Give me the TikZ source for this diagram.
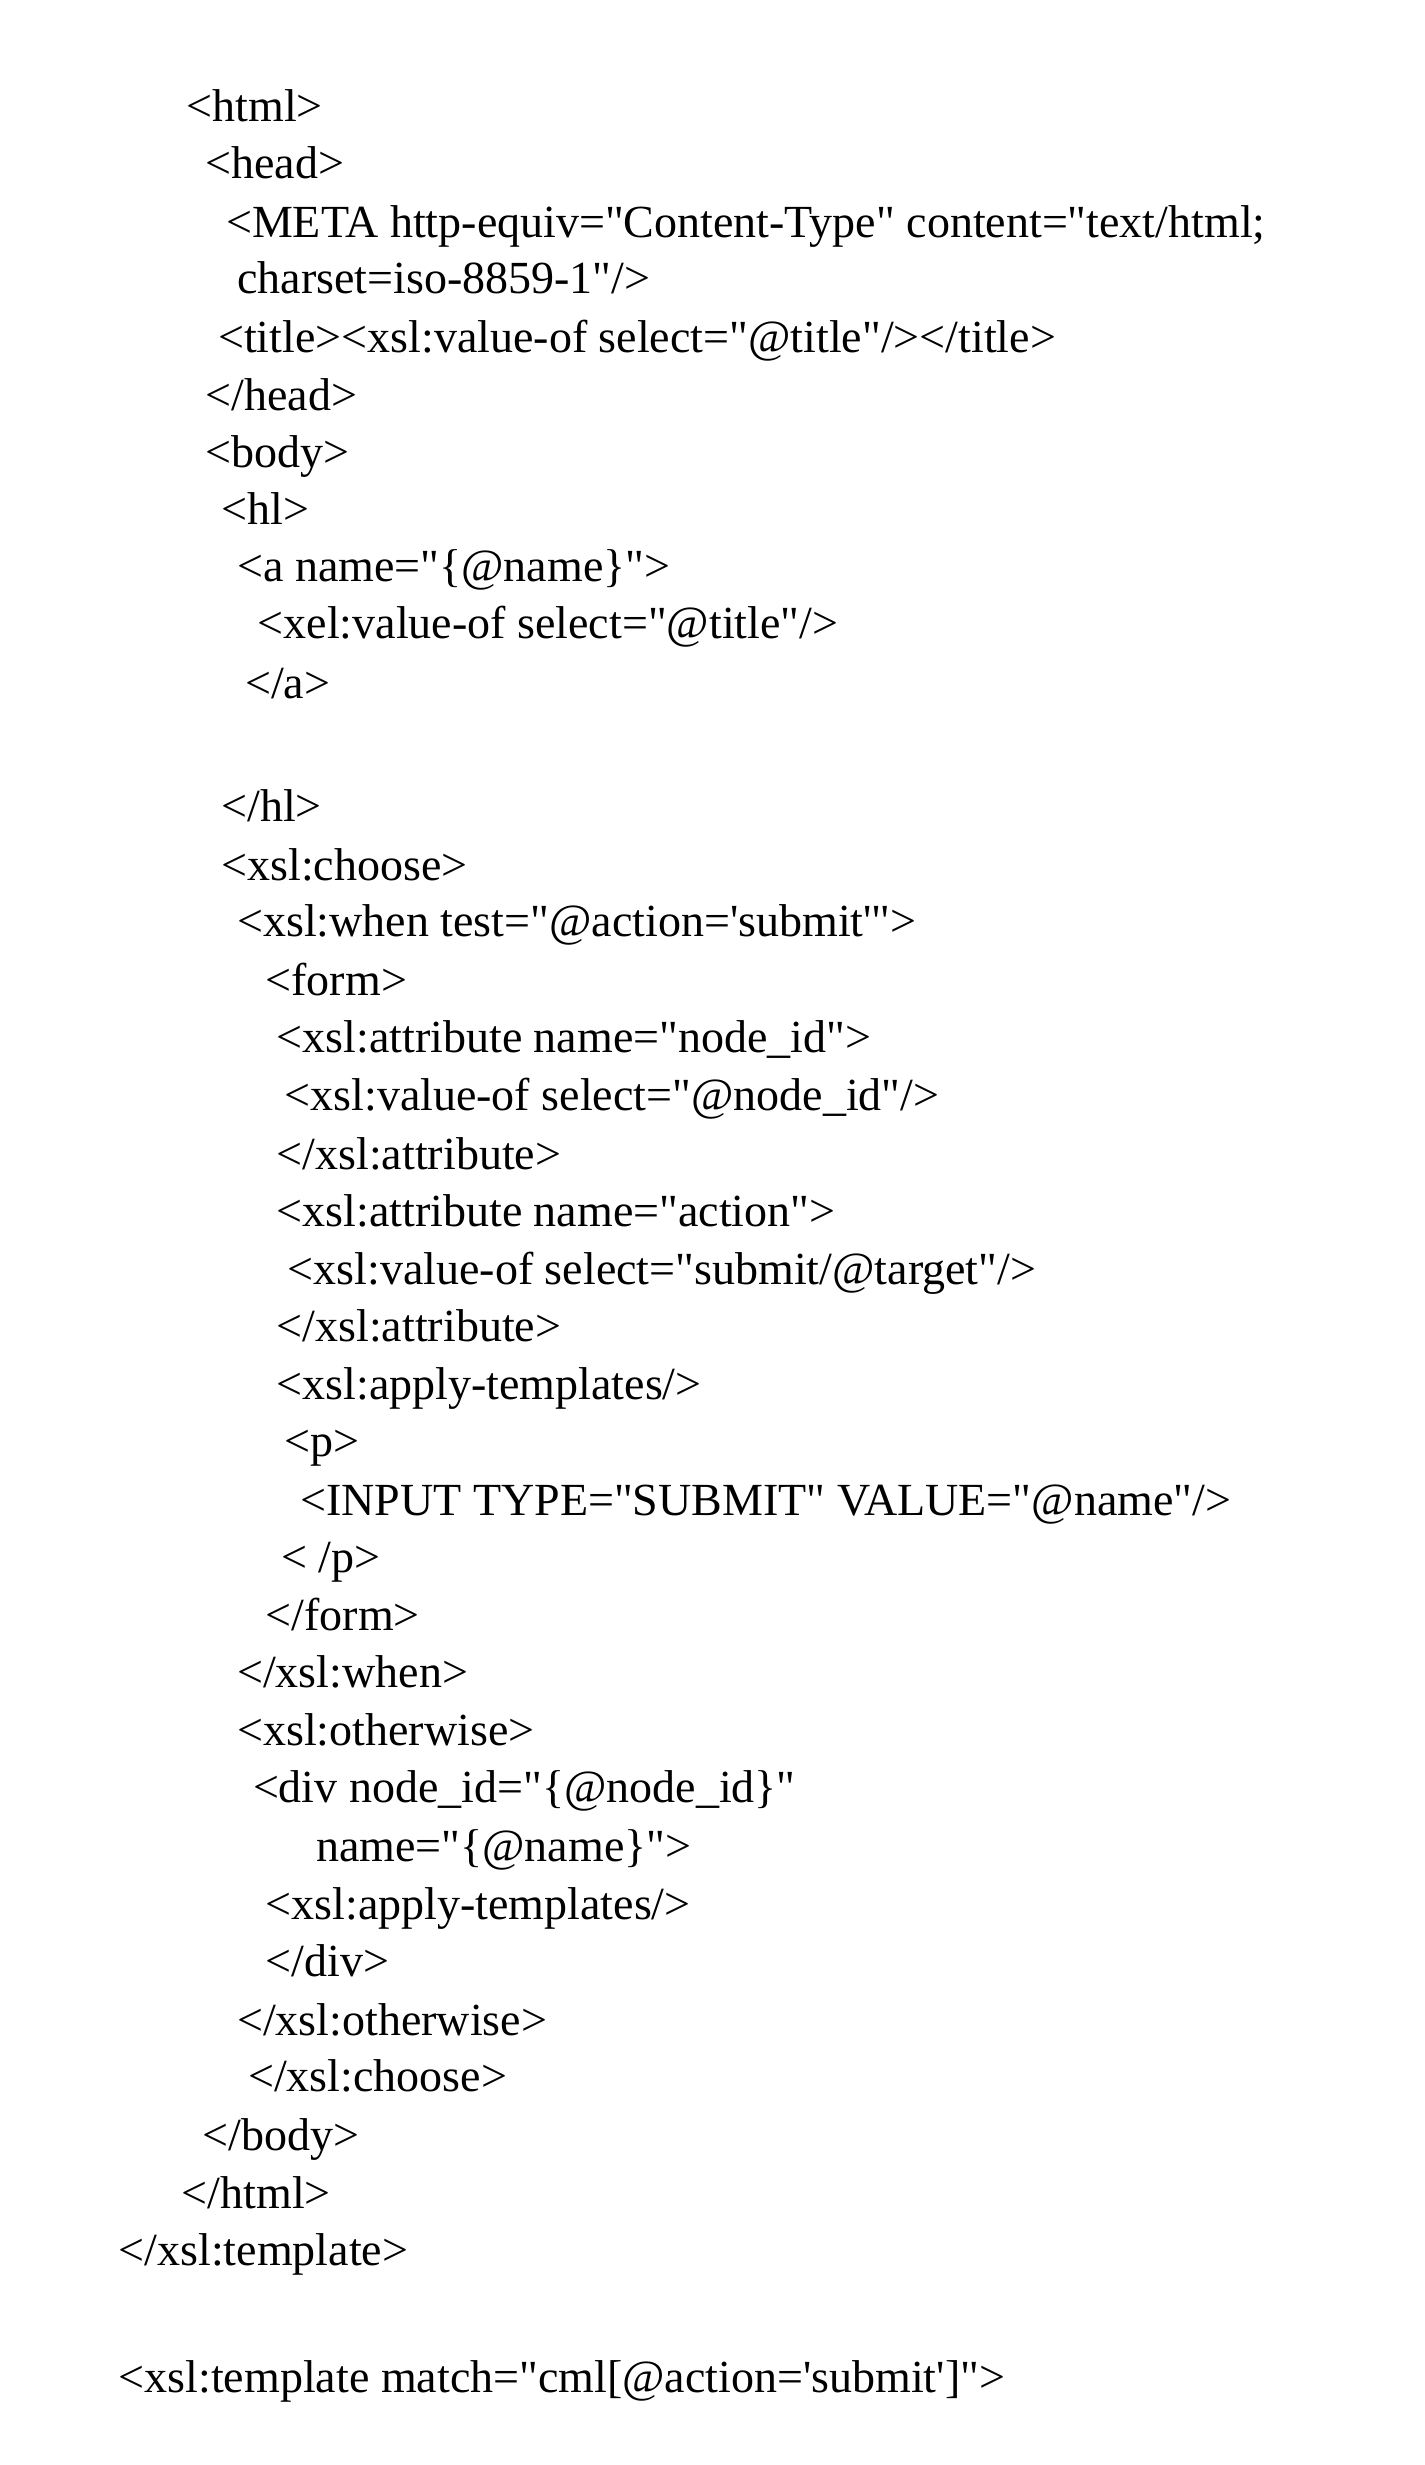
\documentclass[tikz,border=0pt]{standalone}
\usepackage{fontspec}
\setmainfont{Liberation Serif}[Ligatures=TeXOff]
\begin{document}
\begin{tikzpicture}[x=1pt,y=1pt,
  ln/.style={anchor=base west,inner sep=0pt,font=\fontsize{46}{48}\selectfont}]
\fill[white] (0,0) rectangle (1424,-2465);
\useasboundingbox (0,0) rectangle (1424,-2465);
\def\L#1#2#3#4{\node[ln] (#1) at ({#2*1.58},{-(#3+10)*1.58}) {#4};}
\L{l1}{118}{67}{<html>}
\L{l2}{130}{103}{<head>}
\L{l3}{143}{140}{<META http-equiv="Content-Type" content="text/html;}
\L{l4}{150}{176}{charset=iso-8859-1"/>}
\L{l5}{138}{213}{<title><xsl:value-of select="@title"/></title>}
\L{l6}{130}{250}{</head>}
\L{l7}{130}{286}{<body>}
\L{l8}{140}{322}{<hl>}
\L{l9}{150}{358}{<a name="\{@name\}">}
\L{l10}{163}{394}{<xel:value-of select="@title"/>}
\L{l11}{155}{432}{</a>}
\L{l12}{140}{510}{</hl>}
\L{l13}{140}{547}{<xsl:choose>}
\L{l14}{150}{583}{<xsl:when test="@action='submit'">}
\L{l15}{168}{620}{<form>}
\L{l16}{175}{656}{<xsl:attribute name="node\_id">}
\L{l17}{180}{693}{<xsl:value-of select="@node\_id"/>}
\L{l18}{175}{730}{</xsl:attribute>}
\L{l19}{175}{766}{<xsl:attribute name="action">}
\L{l20}{182}{803}{<xsl:value-of select="submit/@target"/>}
\L{l21}{175}{839}{</xsl:attribute>}
\L{l22}{175}{876}{<xsl:apply-templates/>}
\L{l23}{180}{912}{<p>}
\L{l24}{190}{949}{<INPUT TYPE="SUBMIT" VALUE="@name"/>}
\L{l25}{178}{985}{< /p>}
\L{l26}{168}{1022}{</form>}
\L{l27}{150}{1058}{</xsl:when>}
\L{l28}{150}{1095}{<xsl:otherwise>}
\L{l29}{160}{1131}{<div node\_id="\{@node\_id\}"}
\L{l30}{200}{1168}{name="\{@name\}">}
\L{l31}{168}{1205}{<xsl:apply-templates/>}
\L{l32}{168}{1241}{</div>}
\L{l33}{150}{1278}{</xsl:otherwise>}
\L{l34}{157}{1314}{</xsl:choose>}
\L{l35}{128}{1351}{</body>}
\L{l36}{115}{1388}{</html>}
\L{l37}{75}{1424}{</xsl:template>}
\L{l38}{75}{1504}{<xsl:template match="cml[@action='submit']">}
\end{tikzpicture}
\end{document}
